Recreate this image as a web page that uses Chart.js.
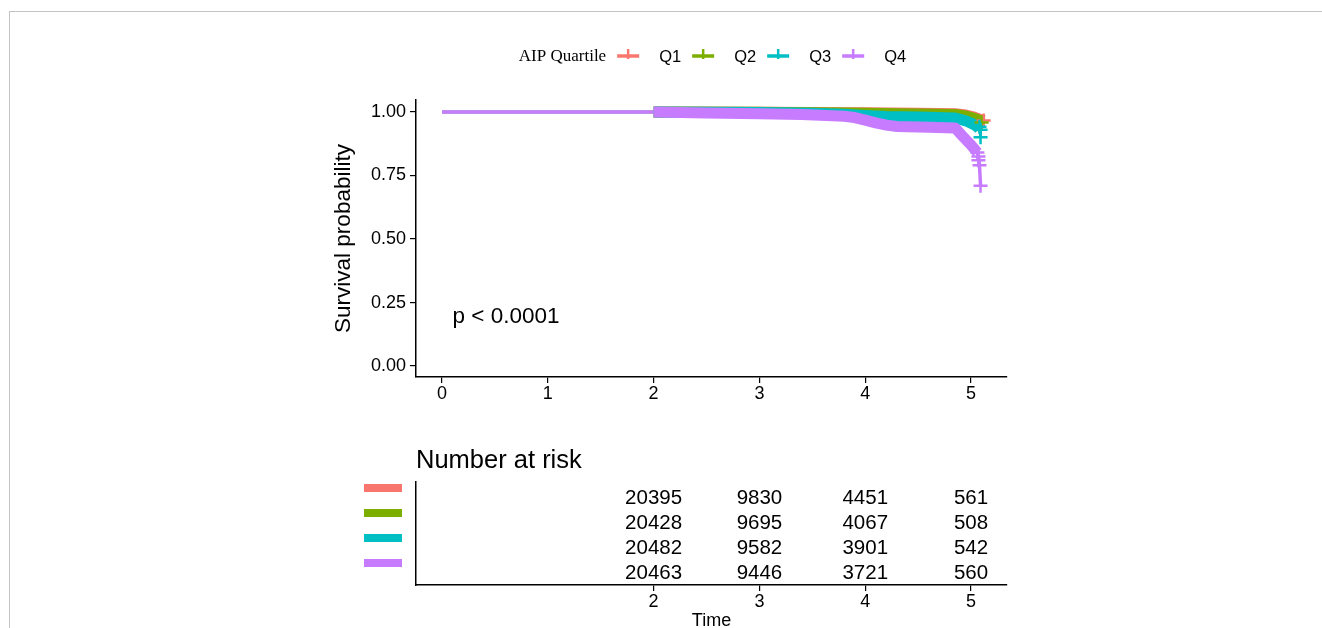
<!DOCTYPE html>
<html>
<head>
<meta charset="utf-8">
<script src="https://cdn.jsdelivr.net/npm/chart.js@4.4.1/dist/chart.umd.min.js"></script>
<style>
  html, body { margin: 0; padding: 0; background: #fff; }
  #wrap { position: relative; width: 1322px; height: 628px; overflow: hidden; }
  #frame { position: absolute; left: 9px; top: 11px; right: 0; bottom: 0;
           border-top: 1px solid #c4c4c4; border-left: 1px solid #c4c4c4; }
  #main { position: absolute; left: 0; top: 0; }
  #risk { position: absolute; left: 0; top: 440px; }
</style>
</head>
<body>
<div id="wrap">
  <div id="frame"></div>
  <canvas id="main" width="1322" height="420"></canvas>
  <canvas id="risk" width="1322" height="188"></canvas>
</div>
<script>
// groups + colours (ggplot default hues)
const groups = ["Q1", "Q2", "Q3", "Q4"];
const colors = ["#F8766D", "#7CAE00", "#00BFC4", "#C77CFF"];
const legendTitle = "AIP Quartile";

// survival curves
const q1Time = [0, 2, 3, 3.5, 4, 4.5, 4.85, 4.95, 5.03, 5.08, 5.12];
const q1Surv = [1, 1, 0.999, 0.998, 0.997, 0.995, 0.993, 0.988, 0.98, 0.972, 0.966];
const q2Time = [0, 2, 3, 3.5, 4, 4.5, 4.85, 4.95, 5.03, 5.08, 5.1];
const q2Surv = [1, 1, 0.999, 0.997, 0.995, 0.992, 0.99, 0.984, 0.975, 0.966, 0.958];
const q3Time = [0, 2, 3, 3.5, 3.8, 4, 4.2, 4.5, 4.85, 4.95, 5.02, 5.06, 5.08, 5.09];
const q3Surv = [1, 1, 0.998, 0.995, 0.991, 0.986, 0.982, 0.98, 0.976, 0.965, 0.952, 0.942, 0.93, 0.9];
const q4Time = [0, 2, 2.5, 3, 3.4, 3.8, 3.9, 4, 4.1, 4.2, 4.3, 4.6, 4.85, 4.92, 5, 5.04, 5.06, 5.07, 5.08, 5.09];
const q4Surv = [1, 1, 0.996, 0.993, 0.99, 0.983, 0.978, 0.968, 0.957, 0.948, 0.943, 0.94, 0.937, 0.905, 0.87, 0.85, 0.84, 0.82, 0.79, 0.71];
// where the dense band of censor marks stops for each group
const bandEnd = [6, 6, 5.08, 5.06];
// thin line width before the band (Q4 a bit wider so it covers the rest)
const thinWidth = [2.5, 2.5, 2.5, 3.5];

// loose censor marks at the tails
const q1CensorTime = [5.12];
const q1CensorSurv = [0.966];
const q2CensorTime = [5.1];
const q2CensorSurv = [0.958];
const q3CensorTime = [5.08, 5.09, 5.09];
const q3CensorSurv = [0.942, 0.93, 0.9];
const q4CensorTime = [5.06, 5.07, 5.07, 5.08, 5.09];
const q4CensorSurv = [0.84, 0.825, 0.81, 0.79, 0.71];

const xTicks = [0, 1, 2, 3, 4, 5];
const yTicks = [0, 0.25, 0.5, 0.75, 1];
const pLabel = "p < 0.0001";

// number at risk
const riskTimes = [2, 3, 4, 5];
const riskQ1 = [20395, 9830, 4451, 561];
const riskQ2 = [20428, 9695, 4067, 508];
const riskQ3 = [20482, 9582, 3901, 542];
const riskQ4 = [20463, 9446, 3721, 560];

const curveTimes = [q1Time, q2Time, q3Time, q4Time];
const curveSurv = [q1Surv, q2Surv, q3Surv, q4Surv];
const censorTimes = [q1CensorTime, q2CensorTime, q3CensorTime, q4CensorTime];
const censorSurv = [q1CensorSurv, q2CensorSurv, q3CensorSurv, q4CensorSurv];
const riskRows = [riskQ1, riskQ2, riskQ3, riskQ4];

const SANS = "'Liberation Sans', Arial, sans-serif";
const xMin = -0.246, xMax = 5.34;

const toPoints = (xs, ys) => xs.map((t, i) => ({ x: t, y: ys[i] }));

let datasets = [];
groups.forEach((g, i) => {
  datasets.push({
    label: g,
    data: toPoints(curveTimes[i], curveSurv[i]),
    borderColor: colors[i],
    backgroundColor: colors[i],
    showLine: true,
    pointRadius: 0,
    tension: 0,
    borderJoinStyle: "round",
    order: 10 - i,
    segment: {
      borderWidth: (c) => (c.p0.parsed.x >= 2 && c.p1.parsed.x <= bandEnd[i] ? 11 : thinWidth[i]),
    },
  });
});
groups.forEach((g, i) => {
  datasets.push({
    label: g + " censor",
    data: toPoints(censorTimes[i], censorSurv[i]),
    borderColor: colors[i],
    backgroundColor: colors[i],
    showLine: false,
    pointStyle: "cross",
    pointRadius: 7,
    pointBorderWidth: 2.5,
    order: 5 - i,
  });
});

const axisGrid = { display: true, drawOnChartArea: false, drawTicks: true, tickLength: 6, color: "#000", lineWidth: 1.2 };
const axisBorder = { display: true, color: "#000", width: 1.5 };

const legendPlugin = {
  id: "kmLegend",
  afterDraw(chart) {
    const ctx = chart.ctx;
    const y = 56;
    ctx.save();
    ctx.textBaseline = "middle";
    ctx.textAlign = "left";
    ctx.fillStyle = "#000";
    // total width so legend is centred over the panel
    ctx.font = "17px 'Liberation Serif', serif";
    const titleW = ctx.measureText(legendTitle).width;
    ctx.font = "16.5px " + SANS;
    let total = titleW + 11;
    groups.forEach((g) => { total += 22 + 20 + ctx.measureText(g).width + 11; });
    total -= 11;
    let x = (chart.chartArea.left + chart.chartArea.right) / 2 - total / 2 + 1;

    ctx.font = "17px 'Liberation Serif', serif";
    ctx.fillText(legendTitle, x, y + 1);
    x += titleW + 11;
    ctx.font = "16.5px " + SANS;
    groups.forEach((g, i) => {
      ctx.strokeStyle = colors[i];
      ctx.lineWidth = 3.5;
      ctx.beginPath(); ctx.moveTo(x, y); ctx.lineTo(x + 22, y); ctx.stroke();
      ctx.lineWidth = 2.5;
      ctx.beginPath(); ctx.moveTo(x + 11, y - 7); ctx.lineTo(x + 11, y + 3); ctx.stroke();
      x += 22 + 20;
      ctx.fillStyle = "#000";
      ctx.fillText(g, x, y + 1);
      x += ctx.measureText(g).width + 11;
    });

    // p value
    const { x: sx, y: sy } = chart.scales;
    ctx.font = "22.5px " + SANS;
    ctx.fillText(pLabel, sx.getPixelForValue(0.1), sy.getPixelForValue(0.193));
    ctx.restore();
  },
};

new Chart("main", {
  type: "scatter",
  data: { datasets: datasets },
  options: {
    responsive: false,
    animation: false,
    layout: { padding: { left: 326, right: 315, top: 100, bottom: 13 } },
    plugins: { legend: { display: false }, tooltip: { enabled: false } },
    scales: {
      x: {
        type: "linear",
        min: xMin,
        max: xMax,
        afterBuildTicks: (s) => { s.ticks = xTicks.map((v) => ({ value: v })); },
        afterFit: (s) => { s.height = 30; },
        ticks: { color: "#000", font: { family: SANS, size: 18 }, padding: 0, maxRotation: 0, autoSkip: false },
        grid: axisGrid,
        border: axisBorder,
      },
      y: {
        min: -0.043,
        max: 1.047,
        afterBuildTicks: (s) => { s.ticks = yTicks.map((v) => ({ value: v })); },
        afterFit: (s) => { s.width = 90; },
        ticks: { color: "#000", font: { family: SANS, size: 18 }, padding: 4, callback: (v) => v.toFixed(2) },
        grid: axisGrid,
        border: axisBorder,
        title: { display: true, text: "Survival probability", color: "#000", font: { family: SANS, size: 22.5 }, padding: { top: 4, bottom: 0 } },
      },
    },
  },
  plugins: [legendPlugin],
});

const riskPlugin = {
  id: "riskTable",
  afterDraw(chart) {
    const { ctx, chartArea } = chart;
    const { x: sx, y: sy } = chart.scales;
    ctx.save();
    ctx.fillStyle = "#000";
    ctx.textBaseline = "middle";
    ctx.textAlign = "left";
    ctx.font = "25.5px " + SANS;
    ctx.fillText("Number at risk", chartArea.left, 21);
    ctx.font = "20.5px " + SANS;
    ctx.textAlign = "center";
    riskRows.forEach((row, r) => {
      const py = sy.getPixelForValue(r + 1);
      ctx.fillStyle = "#000";
      row.forEach((n, j) => ctx.fillText(String(n), sx.getPixelForValue(riskTimes[j]), py + 1));
      ctx.fillStyle = colors[r];
      ctx.fillRect(chartArea.left - 52, py - 13, 38, 8);
    });
    ctx.restore();
  },
};

new Chart("risk", {
  type: "scatter",
  data: { datasets: [] },
  options: {
    responsive: false,
    animation: false,
    layout: { padding: { left: 326, right: 315, top: 42, bottom: 0 } },
    plugins: { legend: { display: false }, tooltip: { enabled: false } },
    scales: {
      x: {
        type: "linear",
        min: xMin,
        max: xMax,
        afterBuildTicks: (s) => { s.ticks = riskTimes.map((v) => ({ value: v })); },
        afterFit: (s) => { s.height = 43; },
        ticks: { color: "#000", font: { family: SANS, size: 18 }, padding: 0, maxRotation: 0, autoSkip: false },
        grid: axisGrid,
        border: axisBorder,
        title: { display: true, text: "Time", color: "#000", font: { family: SANS, size: 18 }, padding: { top: 0, bottom: -4 } },
      },
      y: {
        min: 0.4,
        max: 4.52,
        reverse: true,
        afterFit: (s) => { s.width = 90; },
        ticks: { display: false },
        grid: { display: false },
        border: axisBorder,
      },
    },
  },
  plugins: [riskPlugin],
});
</script>
</body>
</html>
